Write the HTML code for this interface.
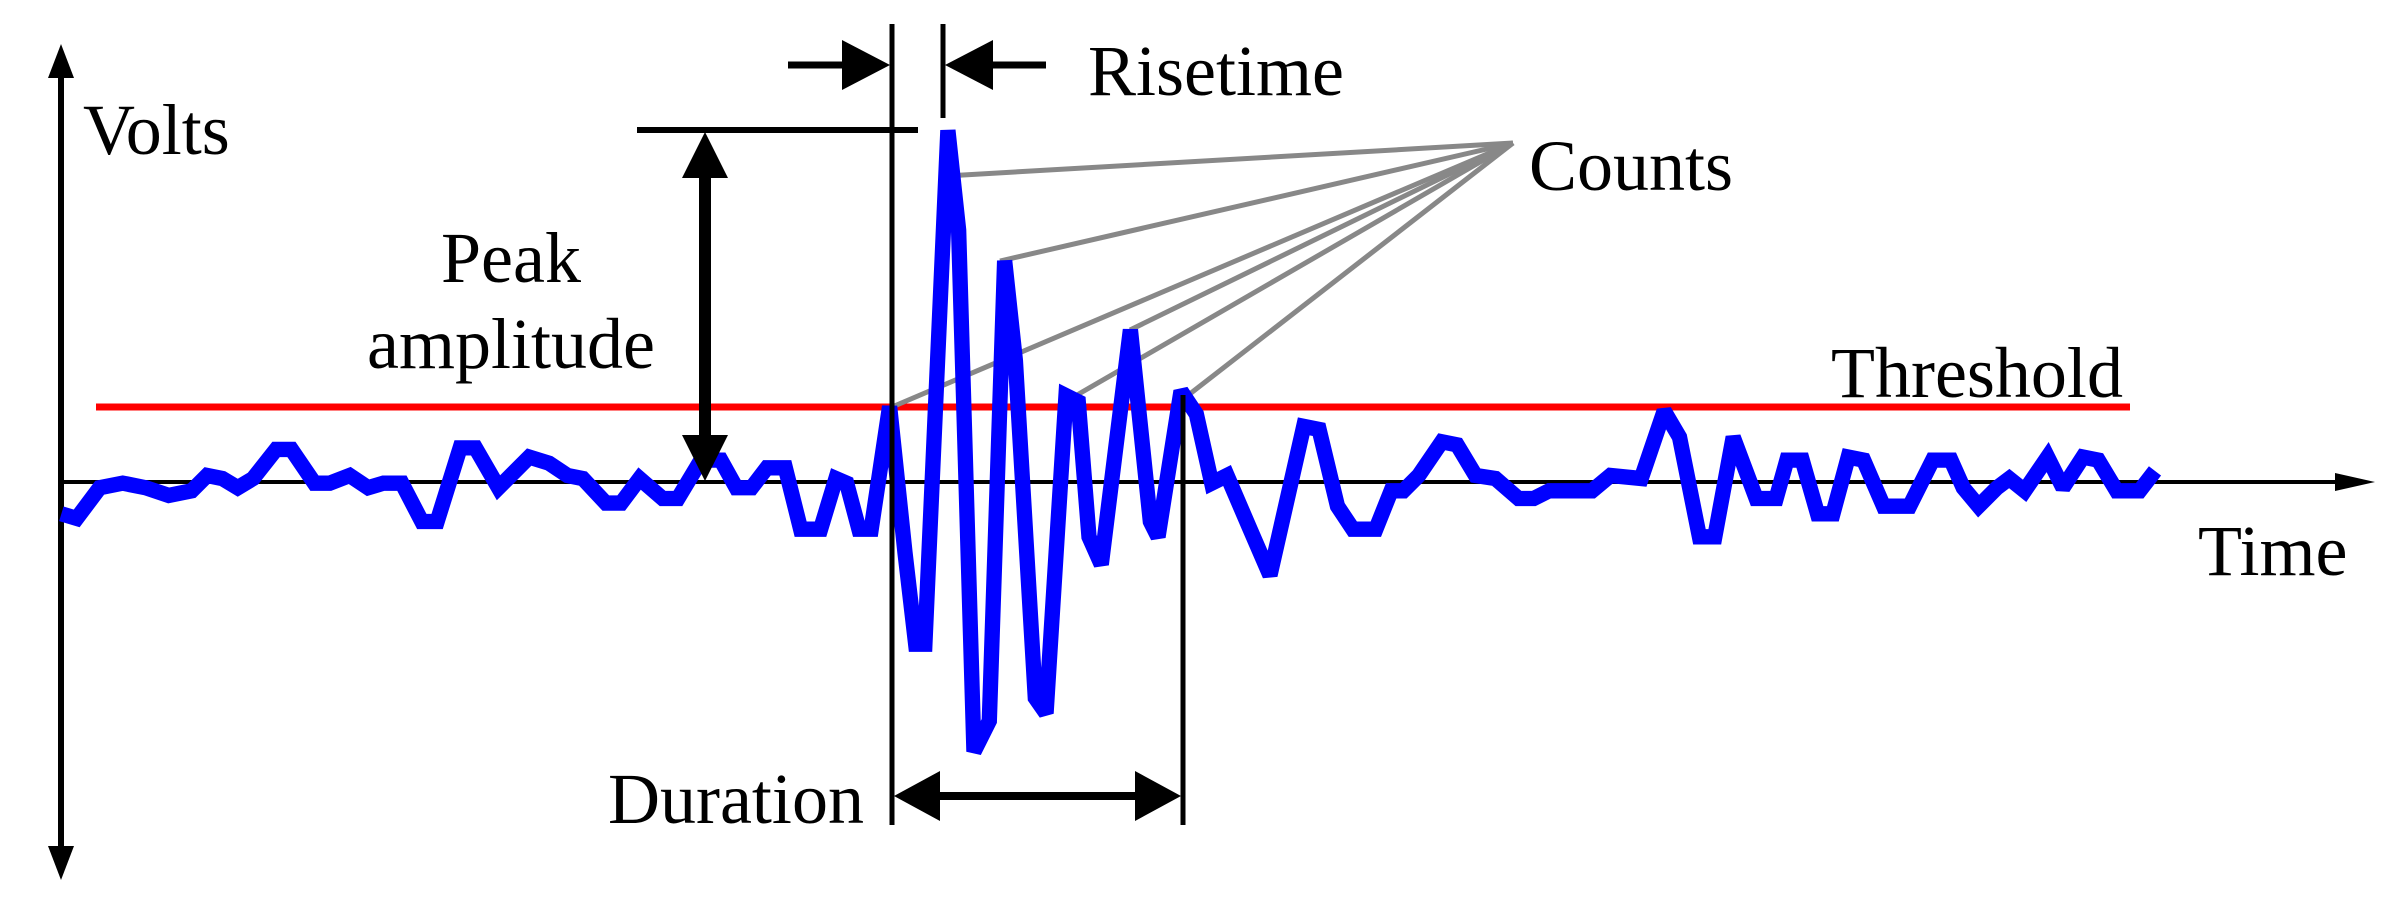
<!DOCTYPE html>
<html><head><meta charset="utf-8"><style>
html,body{margin:0;padding:0;background:#fff;}
svg{display:block;}
text{font-family:"Liberation Serif",serif;font-size:72px;fill:#000;}
</style></head><body>
<svg width="2405" height="901" viewBox="0 0 2405 901" xmlns="http://www.w3.org/2000/svg">
<!-- axes -->
<line x1="61" y1="70" x2="61" y2="855" stroke="#000" stroke-width="6"/>
<polygon points="61,44 48,78 74,78" fill="#000"/>
<polygon points="61,880 48,846 74,846" fill="#000"/>
<line x1="61" y1="482" x2="2345" y2="482" stroke="#000" stroke-width="4"/>
<polygon points="2375,482 2335,473 2335,491" fill="#000"/>
<!-- threshold -->
<line x1="96" y1="407" x2="2130" y2="407" stroke="#f00" stroke-width="7"/>
<!-- counts gray lines -->
<g stroke="#888" stroke-width="5" fill="none">
<line x1="1513" y1="143" x2="946" y2="176"/>
<line x1="1513" y1="143" x2="1000" y2="261"/>
<line x1="1513" y1="143" x2="892" y2="407"/>
<line x1="1513" y1="143" x2="1077" y2="395"/>
<line x1="1513" y1="143" x2="1130" y2="330"/>
<line x1="1513" y1="143" x2="1182" y2="400"/>
</g>
<!-- waveform -->
<g transform="scale(1.5338)">
<polyline fill="none" stroke="#0000ff" stroke-width="10" stroke-linejoin="miter" stroke-miterlimit="2"
points="40,335 50,338 65,318 80,315 95,318 110,323 125,320 135,310 145,312 155,318 165,312 180,293 190,293 205,315 215,315 228,310 240,318 250,315 262,315 275,340 285,340 300,292 310,292 325,318 345,298 358,302 370,310 380,312 395,328 405,328 417,312 432,325 442,325 457,300 470,300 480,318 490,318 500,305 512,305 522,345 535,345 545,312 552,315 560,345 568,345 580,265 590,360 597,420 603,420 618,85 625,150 635,490 645,470 655,170 662,235 675,455 682,465 695,258 703,262 710,350 718,368 737,215 750,340 755,350 770,255 780,270 790,315 800,310 815,345 828,375 850,278 860,280 872,330 882,345 897,345 907,320 915,320 925,310 940,288 950,290 962,310 975,312 990,325 1000,325 1010,320 1020,320 1038,320 1050,310 1070,312 1085,268 1095,285 1108,350 1118,350 1130,285 1145,325 1158,325 1165,300 1175,300 1185,335 1195,335 1205,298 1215,300 1228,330 1245,330 1260,300 1272,300 1280,318 1290,330 1302,318 1310,312 1320,320 1335,298 1345,318 1358,298 1368,300 1380,320 1395,320 1405,307"/>
</g>
<!-- vertical markers -->
<line x1="892" y1="24" x2="892" y2="825" stroke="#000" stroke-width="5"/>
<line x1="1183" y1="395" x2="1183" y2="825" stroke="#000" stroke-width="5"/>
<line x1="943" y1="24" x2="943" y2="118" stroke="#000" stroke-width="5"/>
<!-- risetime arrows -->
<line x1="788" y1="65" x2="860" y2="65" stroke="#000" stroke-width="7"/>
<polygon points="890,65 842,40 842,90" fill="#000"/>
<line x1="1046" y1="65" x2="975" y2="65" stroke="#000" stroke-width="7"/>
<polygon points="945,65 993,40 993,90" fill="#000"/>
<!-- peak amplitude -->
<line x1="637" y1="130" x2="918" y2="130" stroke="#000" stroke-width="6"/>
<line x1="705" y1="170" x2="705" y2="445" stroke="#000" stroke-width="12"/>
<polygon points="705,132 682,178 728,178" fill="#000"/>
<polygon points="705,481 682,435 728,435" fill="#000"/>
<!-- duration arrow -->
<line x1="920" y1="796" x2="1155" y2="796" stroke="#000" stroke-width="8"/>
<polygon points="894,796 940,771 940,821" fill="#000"/>
<polygon points="1181,796 1135,771 1135,821" fill="#000"/>
<!-- labels -->
<text x="83" y="154">Volts</text>
<text x="1088" y="95">Risetime</text>
<text x="1529" y="190">Counts</text>
<text x="511" y="282" text-anchor="middle">Peak</text>
<text x="511" y="368" text-anchor="middle">amplitude</text>
<text x="1831" y="397">Threshold</text>
<text x="2198" y="575">Time</text>
<text x="608" y="823">Duration</text>
</svg>
</body></html>
